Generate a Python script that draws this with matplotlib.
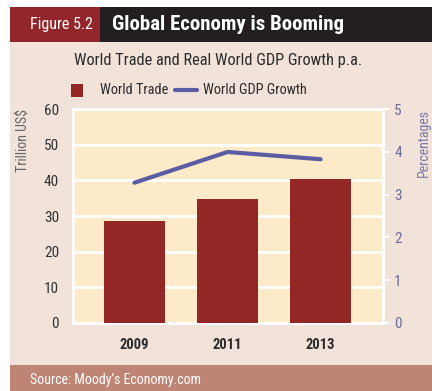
import matplotlib
matplotlib.use("Agg")
import matplotlib.pyplot as plt
from matplotlib.patches import Rectangle
from matplotlib.lines import Line2D
import numpy as np

years = ["2009", "2011", "2013"]
world_trade = [28.5, 34.7, 40.4]
gdp_growth = [3.28, 4.0, 3.83]
left_ticks = [0, 10, 20, 30, 40, 50, 60]
right_ticks = [0, 1, 2, 3, 4, 5]

W, H = 432, 391
FONT = ['Roboto Condensed', 'Archivo Narrow', 'PT Sans Narrow', 'Liberation Sans Narrow', 'DejaVu Sans']
plt.rcParams['font.family'] = FONT

fig = plt.figure(figsize=(W / 100, H / 100), dpi=100)
fig.patch.set_facecolor('white')

def rect(x0, y0, x1, y1, color):
    fig.patches.append(Rectangle((x0 / W, 1 - y1 / H), (x1 - x0) / W, (y1 - y0) / H,
                                 transform=fig.transFigure, color=color, zorder=-5, lw=0))

def fx(x):
    return x / W

def fy(y):
    return 1 - y / H

# panels
rect(10, 42, W, 365, '#F1E3DA')
rect(10, 7, 100, 42, '#92262A')
rect(100, 7, W, 42, '#231F20')
rect(10, 365, W, H, '#BF8574')

fig.text(fx(30), fy(25), "Figure 5.2", color='white', fontsize=11.5, va='center', ha='left')
fig.text(fx(112), fy(24), "Global Economy is Booming", color='white', fontsize=15,
         fontweight='heavy', va='center', ha='left')
fig.text(fx(218), fy(60), "World Trade and Real World GDP Growth p.a.", color='#2B2B2B',
         fontsize=11.8, va='center', ha='center')
fig.text(fx(30), fy(380), "Source: Moody\u2019s Economy.com", color='white', fontsize=10,
         va='center', ha='left')

# legend
rect(71, 84, 83, 97, '#922726')
fig.text(fx(100), fy(90.5), "World Trade", color='#2B2B2B', fontsize=10.3, va='center', ha='left')
fig.add_artist(Line2D([fx(175), fx(197)], [fy(90), fy(90)], color='#5A5CA4', lw=3,
                      transform=fig.transFigure, solid_capstyle='round'))
fig.text(fx(203), fy(90.5), "World GDP Growth", color='#2B2B2B', fontsize=10.3, va='center', ha='left')

# axes
x0, x1, ytop, ybot = 73, 383, 109.3, 322.7
ax = fig.add_axes([fx(x0), fy(ybot), (x1 - x0) / W, (ybot - ytop) / H])
ax.set_zorder(2)
ax.set_facecolor('#FDEAC8')
x = np.arange(len(years))
ax.bar(x, world_trade, width=0.656, color='#922726', zorder=3)
ax.set_xlim(-0.66, 2.67)
ax.set_ylim(0, 60)
ax.set_yticks(left_ticks)
ax.set_yticklabels([str(t) for t in left_ticks], color='#333333', fontsize=11)
ax.tick_params(axis='y', length=0, pad=10)
ax.set_xticks(x)
ax.set_xticklabels(years, fontweight='bold', fontsize=10.5, color='#2B2B2B')
ax.tick_params(axis='x', length=0, pad=11)
ax.grid(axis='y', color='white', lw=2, zorder=1)
ax.set_axisbelow(True)
for s in ax.spines.values():
    s.set_color('white')
    s.set_linewidth(2)
ax.set_ylabel("Trillion US$", color='#666666', fontsize=10, loc='top', labelpad=10)

ax2 = ax.twinx()
ax2.set_zorder(3)
ax2.patch.set_visible(False)
ax2.plot(x, gdp_growth, color='#5A5CA4', lw=3, zorder=4, solid_capstyle='round')
ax2.set_ylim(0, 5)
ax2.set_yticks(right_ticks)
ax2.set_yticklabels([str(t) for t in right_ticks], color='#6B6B9A', fontsize=11)
ax2.tick_params(axis='y', length=4, width=1.5, color='white', pad=4)
for s in ax2.spines.values():
    s.set_visible(False)
ax2.set_ylabel("Percentages", color='#7A7AAA', fontsize=10, loc='top', labelpad=11)

fig.savefig("out.png", dpi=100)
